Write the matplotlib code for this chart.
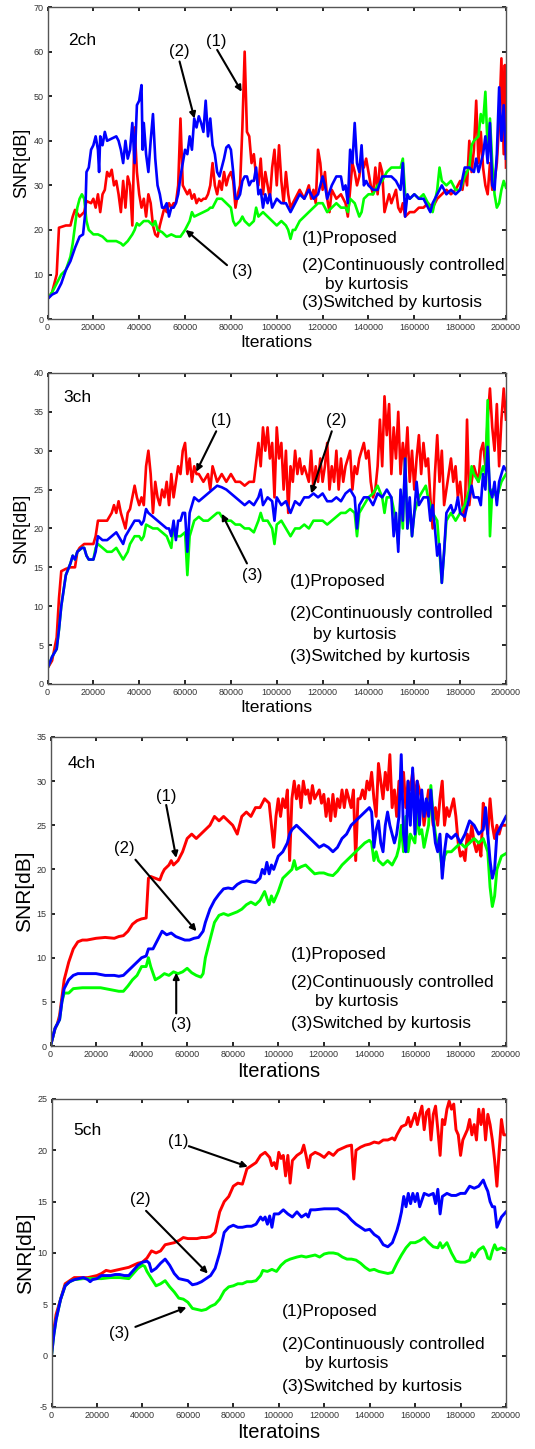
import numpy as np
import matplotlib
matplotlib.use("Agg")
import matplotlib.pyplot as plt

plt.rcParams['font.family'] = ['Liberation Sans', 'DejaVu Sans']
plt.rcParams['axes.unicode_minus'] = False

# ---- SNR curves: (iterations in thousands, SNR in dB) ----
ch2_proposed = [(0,4.5),(2,6),(4,10),(5,20.5),(8,21),(10,21),(11,23),(12,24.5),(14,23),(16,24),(17,26.5),(19,26),(20,27),(21,25),(22,28),(23,24),(24,28),(25,29),(26,33),(27,32),(28,33.5),(29,30),(30,31),(31,28),(32,24),(33,31),(34,25),(35,32),(36,30),(37,21),(38,43),(39,33),(40,28),(41,25),(42,27),(43,23),(44,28),(45,26),(46,21),(47,19),(48,18.5),(49,21),(50,23),(51,25),(52,24),(53,26),(54,25),(55,26),(56,26),(57,30),(58,45),(59,30),(60,29),(61,28),(62,29),(63,27),(64,28),(65,26),(66,27),(67,26.5),(68,27),(69,27),(70,28),(71,30),(72,35),(73,30),(74,28),(75,31),(76,29),(77,33),(78,30),(79,32),(80,33),(81,31),(82,25),(83,28),(84,30),(85,43),(86,60),(87,42),(88,41),(89,35),(90,37),(91,32),(92,30),(93,36),(94,28),(95,33),(96,30),(97,27),(98,34),(99,38),(100,30),(101,39),(102,31),(103,26),(104,33),(105,28),(106,25),(107,26),(108,27),(110,29),(112,27),(114,30),(115,27),(116,29),(117,26),(118,38),(119,35),(120,29),(121,33),(122,27),(123,24),(124,29),(126,27),(128,28),(130,26),(131,23),(133,35),(134,33),(135,30),(136,32),(137,36),(138,34),(139,36),(140,33),(141,30),(142,28),(143,34),(144,28),(145,35),(146,33),(147,24),(148,26),(149,28),(150,26),(152,29),(153,25),(154,24),(155,26),(156,23),(158,24),(160,24),(162,25),(164,25),(166,26),(168,25),(170,27),(172,28),(174,29),(176,28),(178,29),(180,31),(181,29),(182,33),(183,30),(184,40),(185,33),(186,38),(187,49),(188,35),(189,42),(190,34),(191,30),(192,28),(193,35),(194,29),(195,31),(196,35),(197,44),(198,58.5),(199,37),(199.5,57),(200,34)]
ch2_continuous = [(0,4.5),(2,5.5),(4,6),(6,8),(8,11),(10,13),(12,16),(14,18.5),(15.5,19),(16.5,24),(17,33),(18,34),(19,38),(20,39),(21,41),(22,38),(22.5,33),(23,41),(24,39),(25,42),(26,40),(28,40.5),(30,41),(31,40),(32,38),(33,35),(34,40),(35,36),(36,38),(37,44),(38,35),(39,48),(40,49),(41,52.5),(41.5,38),(42,44),(43,37),(44,33),(45,40),(46,46),(47,36),(48,30),(49,28),(50,25),(51,25),(52,26),(53,23),(54,25),(55,25),(56,26),(57,28),(58,32),(59,35),(60,38),(61,37),(62,41),(63,38),(64,45),(65,43),(66,45.5),(67,44),(68,42),(69,49),(70,41),(71,45),(72,39),(73,37),(74,33),(75,32),(76,34),(77,36),(78,38.5),(79,39),(80,38),(81,33),(82,27),(83,27),(84,28),(85,31),(86,32),(87,32),(88,30),(89,31),(90,31),(91,34),(92,28),(93,29),(94,25),(95,28),(96,26),(97,28),(98,25),(100,27),(102,26),(104,26),(106,24),(108,26),(110,28),(112,27),(114,29),(116,27),(118,28),(120,32),(121,30),(122,27),(124,30),(126,32),(128,32),(129,29),(130,30),(131,26),(132,38),(133,35),(134,44),(135,35),(136,33),(137,39),(138,30),(139,31),(140,30),(142,29),(144,29),(146,32),(148,32),(150,32),(152,31),(154,29),(155,35),(156,23),(157,28),(158,27),(160,28),(162,27),(164,27),(166,25),(167,24),(168,26),(170,28),(172,30),(174,28),(176,29),(178,28),(180,29),(182,34),(184,34),(186,33),(187,36),(188,33),(190,37),(191,41),(192,35),(193,44),(194,30),(195,29),(196,37),(197,52),(198,40),(199,48),(200,36)]
ch2_switched = [(0,4.5),(2,6),(4,8),(6,10),(8,11),(10,14),(11,17),(12,21),(13,25),(14,27),(15,28),(16,27),(17,22),(18,20),(20,19),(22,19),(24,18.5),(26,17.5),(28,17.5),(30,17.5),(32,17),(33,16.5),(35,17.5),(37,19),(38,20),(39,21.5),(40,21),(42,22),(44,22),(46,21),(47,22),(48,20),(50,19.5),(52,18.5),(54,19),(56,18.5),(58,18.5),(60,20),(61,21),(62,22),(63,24),(64,23),(66,23.5),(68,24),(70,24.5),(71,25),(72,25),(73,26),(74,27),(76,27),(78,26),(80,25),(81,22),(82,21),(84,22),(85,23),(86,22),(88,21),(90,22),(91,25),(92,23),(94,24),(96,23),(98,22),(100,21),(102,22),(104,21),(105,20),(106,18),(107,20),(108,20),(110,22),(112,23),(114,24),(116,25),(118,26),(120,26),(122,24),(124,25),(126,26),(128,25),(130,25),(131,24),(132,27),(134,26),(136,23),(137,24),(138,27),(140,28),(142,28),(144,30),(146,31),(148,33),(150,34),(152,34),(154,34),(155,36),(156,28),(158,27),(160,28),(162,27),(164,28),(166,26),(168,24),(170,29),(171,34),(172,31),(174,30),(176,31),(178,29),(180,29),(182,32),(184,34),(185,39),(186,40),(188,41),(189,46),(190,44),(191,51),(192,38),(193,45),(194,35),(195,28),(196,25),(197,26),(198,29),(199,31),(200,29.5)]

ch3_proposed = [(0,2),(2,3),(4,6),(5,11),(6,14.5),(8,14.8),(10,15),(12,15),(13,17),(14,17.5),(16,18),(18,18),(20,18),(21,19),(22,21),(24,21),(26,21),(28,22),(29,23),(30,22),(31,23.5),(32,22),(33,21),(34,20),(35,22),(36,22.5),(37,24),(38,25.5),(39,24),(40,23),(41,24),(42,23),(43,28),(44,30),(45,27),(46,22),(47,26),(48,24),(49,23),(50,25),(51,24),(52,26),(53,23),(54,27),(55,24),(56,26),(57,28),(58,27),(59,30),(60,31),(61,27),(62,29),(63,26),(64,28),(65,27),(66,27),(68,26),(70,27),(71,25),(72,28),(74,26),(76,27),(78,26),(80,27),(82,26),(84,26),(86,25.5),(88,26),(90,26),(92,31),(93,28),(94,33),(95,30),(96,33),(97,29),(98,31),(99,24),(100,33),(101,29),(102,31),(103,25),(104,30),(105,22),(106,28),(107,26),(108,30),(109,27),(110,29),(111,27),(112,28),(114,26),(115,30),(116,25),(117,28),(118,26),(119,29),(120,26),(121,28),(122,31),(123,25),(124,28),(125,26),(126,30),(127,25),(128,29),(129,26),(130,28),(131,29),(132,30),(133,25),(134,28),(135,27),(136,29),(137,30),(138,31),(139,29),(140,30),(141,26),(142,24),(143,25),(144,28),(145,34),(146,28),(147,37),(148,32),(149,36),(150,27),(151,33),(152,29),(153,35),(154,27),(155,31),(156,28),(157,33),(158,26),(159,30),(160,25),(161,29),(162,32),(163,27),(164,31),(165,28),(166,29),(167,24),(168,20),(169,27),(170,32),(171,26),(172,30),(173,23),(174,25),(175,27),(176,29),(177,26),(178,28),(179,24),(180,26),(181,23),(182,21),(183,34),(184,23),(185,26),(186,28),(187,27),(188,26),(189,30),(190,31),(191,28),(192,34),(193,38),(194,33),(195,30),(196,36),(197,28),(198,34),(199,38),(200,34)]
ch3_continuous = [(0,2),(2,3.5),(4,4.5),(5,7),(6,10),(8,14),(10,15.5),(11,16.5),(12,16),(13,17),(15,17.5),(16,17.5),(17,16.5),(18,16),(20,16),(21,17),(22,19),(24,18.5),(26,18.5),(28,19),(30,19.5),(32,18.5),(33,18),(34,19),(36,20),(38,21),(40,21),(41,20.5),(42,21),(43,22.5),(44,22),(46,21.5),(48,21),(50,20.5),(52,20),(53,20),(54,19),(55,21),(56,18.5),(57,21),(58,21),(59,22),(60,22),(61,17),(62,22),(63,23),(64,24),(66,23.5),(68,24),(70,24.5),(72,25),(74,25.5),(76,25.3),(78,25),(80,24.5),(82,24),(84,23.5),(86,23),(88,23.5),(90,23),(92,24),(93,25),(94,23),(96,24),(98,23.5),(99,21),(100,24),(102,23),(104,23.5),(106,22),(108,23.5),(110,23),(112,24),(114,24),(116,24.5),(118,24),(120,24.5),(122,23.5),(124,23.5),(126,24),(128,23.5),(130,24.5),(132,25),(134,24),(135,20),(136,23),(138,24),(140,24),(142,23),(144,24.5),(146,24),(148,25),(150,24),(151,19),(152,22),(153,17),(154,25),(155,21),(156,29),(157,20),(158,24),(159,19),(160,22),(161,26),(162,23),(164,24),(166,24),(167,21),(168,23),(169,20),(170,16.5),(171,18),(172,13),(173,17),(174,22),(176,23),(177,22),(178,22.5),(179,24),(180,22),(182,21.5),(184,24),(185,25.5),(186,24),(188,24),(189,23),(190,27),(191,25),(192,30.5),(193,25),(194,24),(195,26),(196,23),(197,26),(198,27),(199,28),(200,27.5)]
ch3_switched = [(0,2),(2,3.5),(4,4.5),(5,7),(6,10),(8,14),(10,15.5),(11,16.5),(12,16),(13,17),(15,17.5),(16,17.5),(17,16.5),(18,16),(20,16),(21,17.5),(22,18),(24,17.5),(26,17),(28,17),(30,17.5),(32,16.5),(33,16),(35,17),(36,18),(38,19),(40,19),(41,18.5),(42,19),(43,20.5),(46,20),(48,20),(50,19.5),(52,19),(54,17.5),(55,20.5),(56,19),(58,19),(60,19.5),(61,14),(62,19),(64,21),(66,21.5),(68,21),(70,21),(72,21.5),(74,22),(75,22),(76,21.5),(78,21),(80,21),(82,20.5),(84,20.5),(86,20),(88,20),(90,19.5),(92,21),(93,22),(94,21),(96,21),(98,20),(99,18),(100,20.5),(102,21),(104,20),(106,19),(108,20),(110,20),(112,20.5),(114,20),(116,21),(118,21),(120,21),(122,20.5),(124,21),(126,21.5),(128,22),(130,22),(132,22.5),(134,22),(135,19),(136,22),(138,23),(140,24),(142,24.5),(144,25.5),(146,24),(147,22),(148,24),(150,24),(152,21),(153,18),(154,24),(155,20),(156,29),(157,20),(158,23),(159,19),(160,22),(162,24),(164,25),(165,25.5),(166,24),(168,22),(170,21),(172,13),(173,17),(174,21),(176,22),(178,21),(180,22),(182,23),(184,25),(185,28),(186,27),(188,26),(190,28),(191,27),(192,36.5),(193,19),(194,25),(196,24),(198,26),(200,27)]

ch4_proposed = [(0,0),(1,1),(2,2),(3,2.5),(4,3.5),(5,5.5),(6,7.5),(8,9.5),(10,11),(12,11.8),(14,12),(16,12),(20,12.2),(24,12.3),(28,12.2),(30,12.4),(32,12.5),(34,13),(36,13.8),(38,14.2),(40,14.4),(42,14.5),(43,19),(44,19.2),(46,19),(48,18.8),(49,19.5),(50,20),(52,20.5),(53,21),(54,20.5),(56,21),(58,22),(60,23.5),(62,24),(64,23.5),(66,24),(68,24.5),(70,25),(72,26),(74,25.5),(76,26),(78,25.5),(80,25),(82,24),(84,26),(86,26.5),(88,26),(90,27),(92,27),(94,28),(96,27.5),(97,25),(98,22.5),(99,26),(100,28),(101,26),(102,28),(103,27),(104,29),(105,21),(106,28),(107,30),(108,28),(109,29.5),(110,27),(111,30),(112,28.5),(113,29),(114,27.5),(115,29.5),(116,28),(118,29),(119,27.5),(120,28.5),(121,26),(122,28),(123,25.5),(124,28.5),(125,26),(126,28),(127,27),(128,29),(129,27),(130,29),(131,28),(132,27),(133,29),(134,21),(135,28),(136,28),(137,29),(138,28),(139,30),(140,29),(141,31),(142,28),(143,26),(144,32),(145,30),(146,28),(147,31),(148,29),(149,33),(150,27),(151,29),(152,26),(153,30),(154,28),(155,31),(156,27),(157,30),(158,29),(159,31),(160,28),(161,30),(162,29),(163,28),(164,25),(165,27),(166,29),(167,28),(168,25),(169,27),(170,25),(171,28),(172,30),(173,25),(174,27),(175,26),(176,27),(177,28),(178,26),(179,23),(180,21.5),(181,22),(182,21),(183,24),(184,23),(185,25),(186,23),(187,22),(188,23),(189,21.5),(190,27.5),(191,26),(192,24),(193,28),(194,25),(195,23.5),(196,25),(197,24),(198,25),(200,25)]
ch4_continuous = [(0,0),(2,2),(4,3),(5,5),(6,6.5),(8,7.5),(10,8),(12,8.2),(16,8.2),(20,8.2),(24,8),(28,8),(30,7.9),(32,8),(34,8.5),(36,9),(38,9.5),(40,10),(42,10.2),(43,11),(45,11),(47,12),(49,13),(51,12.6),(53,12.8),(55,12.4),(57,12.2),(59,12),(61,12),(63,12.2),(65,12.3),(67,13),(68,14),(70,15.5),(72,16.5),(74,17.2),(76,17.8),(78,17.9),(80,17.8),(82,18.3),(84,18.6),(86,18.7),(88,18.6),(90,18.5),(92,19),(93,20),(94,19.5),(95,20.8),(96,19.5),(97,20.5),(98,20),(100,21.5),(102,22),(103,22.5),(104,23),(105,24),(106,24.5),(108,25),(110,24.5),(112,24),(114,23.5),(116,23),(118,22.5),(120,22.8),(122,22.5),(124,22),(126,22.5),(128,23.5),(130,24),(132,25),(134,25.5),(136,26),(138,26.5),(140,27),(141,26.5),(142,22.5),(143,24.5),(144,25.5),(145,23),(146,22),(147,25),(148,26.5),(149,25),(150,24),(151,23),(152,24),(153,26),(154,33),(155,24),(156,22),(157,30),(158,25),(159,31.5),(160,24),(161,30),(162,25),(163,29),(164,26),(165,28),(166,26),(167,29),(168,25.5),(169,23),(170,22),(171,24),(172,19),(173,22),(174,24),(176,23.5),(178,24),(180,23),(182,24),(184,25.5),(186,25),(188,24),(190,24.5),(191,27),(192,24),(193,21),(194,19),(195,20),(196,24),(198,25),(200,26)]
ch4_switched = [(0,0),(2,2),(4,3),(5,5),(6,6),(8,6),(10,6.5),(14,6.6),(18,6.6),(22,6.6),(26,6.4),(30,6.2),(32,6.2),(34,6.8),(36,7.5),(38,8),(40,9),(42,9),(43,10),(44,9),(46,7.5),(48,7.8),(50,8.2),(52,8),(54,8.4),(56,8.2),(58,8.4),(60,8.8),(62,8.3),(64,8),(66,7.8),(67,8.2),(68,10),(70,12),(72,14),(74,14.8),(76,15),(78,14.8),(80,15),(82,15.2),(84,15.5),(86,16),(88,16.3),(90,16),(92,16.5),(94,17.5),(96,16),(97,17),(98,16.3),(100,17.5),(102,19),(104,19.5),(106,20),(107,21),(108,20),(110,20.3),(112,20.5),(114,20),(116,19.5),(118,19.6),(120,19.6),(122,19.4),(124,19.3),(126,19.8),(128,20.5),(130,21),(132,21.5),(134,22),(136,22.5),(138,23),(140,23.3),(141,23),(142,21),(143,22),(144,21),(146,20.5),(148,21),(150,20.5),(152,21.5),(153,22.5),(154,25),(155,22),(156,26),(157,22),(158,24),(160,23),(161,26.5),(162,24),(163,24.5),(164,22.5),(166,25),(167,29.5),(168,26),(169,24),(170,22.5),(171,22),(172,20),(173,21.5),(174,22),(176,22),(178,22.5),(180,23),(182,22.5),(184,23),(186,23.5),(188,23),(190,23.5),(192,22),(193,18),(194,15.8),(195,17),(196,20),(198,21.5),(200,21.8)]

ch5_proposed = [(0,0.5),(1,2.5),(2,4),(4,5.5),(6,7),(8,7.3),(10,7.6),(12,7.6),(14,7.6),(16,7.6),(18,7.7),(20,7.8),(22,8),(24,8.3),(26,8.2),(28,8.3),(30,8.4),(32,8.5),(34,8.6),(36,8.8),(38,9),(40,9.1),(42,9.5),(44,10.2),(46,10),(48,10.2),(50,10.8),(52,10.9),(54,11),(56,11.2),(58,11.5),(60,11.4),(62,11.4),(64,11.4),(66,11.5),(68,11.5),(70,11.6),(72,12),(74,14),(76,15),(78,15.5),(80,16.5),(82,16.8),(84,16.7),(86,18.2),(88,18.5),(90,18.8),(92,19.5),(94,19.8),(96,19.3),(97,18.5),(98,18.8),(99,18.2),(100,19.8),(101,19.2),(102,19.5),(103,17.5),(104,19.5),(105,16.8),(106,19),(108,19.5),(110,19.8),(111,20.5),(112,19.5),(113,18.3),(114,19.5),(116,19.8),(118,19.6),(120,19.3),(122,19.8),(124,19.5),(126,20),(128,20.2),(130,20.4),(132,20.5),(133,17.2),(134,20),(136,20.3),(138,20.5),(140,20.6),(142,20.8),(144,20.7),(146,21),(148,21),(150,21.2),(151,21),(152,21.5),(154,22.3),(156,22.5),(157,23.2),(158,22.3),(160,23.6),(161,22.5),(162,23.5),(163,24.3),(164,22),(165,23.7),(166,24),(167,21),(168,23.5),(169,24.3),(170,22),(171,19.5),(172,23),(173,22.5),(174,24),(175,24.8),(176,24),(177,24.5),(178,22),(179,21.5),(180,19.5),(181,21),(182,21.5),(183,22),(184,23),(185,21.5),(186,22.5),(187,21),(188,24),(189,22.5),(190,24),(191,21),(192,23.5),(193,22.5),(194,21),(195,19),(196,16.5),(197,20),(198,23),(199,21.5),(200,21.5)]
ch5_continuous = [(0,0),(1,2),(2,3.5),(4,5.5),(6,6.8),(8,7.2),(10,7.4),(12,7.5),(14,7.6),(16,7.4),(17,7.2),(18,7.4),(20,7.5),(22,7.8),(24,7.8),(26,7.8),(28,7.9),(30,7.9),(32,7.8),(34,7.8),(36,8.3),(38,8.8),(40,9.1),(42,9.2),(43,9),(44,8.2),(46,8.5),(48,9),(50,9.4),(52,8.8),(54,8),(56,7.5),(58,7.4),(60,7.3),(62,6.9),(64,7),(66,7.2),(68,7.5),(70,7.8),(72,8.5),(74,10),(76,12),(78,12.5),(80,12.7),(82,12.5),(84,12.5),(86,12.6),(88,12.6),(90,12.8),(92,13.5),(93,13.2),(94,13.5),(95,12.8),(96,13.6),(97,12.5),(98,13.8),(100,13.8),(102,14.2),(104,13.8),(106,13.5),(108,14),(110,13.5),(112,13.8),(113,13.5),(114,14.2),(116,14.2),(120,14.3),(122,14.3),(124,14.3),(126,14.3),(128,14),(130,13.7),(132,13.2),(134,12.8),(136,12.5),(138,12.2),(140,12.3),(142,11.8),(144,11.5),(146,10.8),(148,10.6),(150,11),(152,12.2),(153,13),(154,14),(155,15.5),(156,14.5),(157,15.8),(158,14.8),(159,15.8),(160,15),(161,15.8),(162,14.5),(164,15.8),(166,15.6),(168,15.8),(169,14.8),(170,16.2),(171,13.8),(172,15.5),(174,15.8),(176,15.6),(178,15.6),(180,15.8),(182,15.8),(184,16.5),(186,16.3),(188,16.5),(190,17.1),(191,16.5),(192,16),(193,15),(194,14.5),(195,14.5),(196,12.5),(197,13),(198,13.5),(200,14)]
ch5_switched = [(0,0),(1,2),(2,3.5),(4,5.5),(6,6.8),(8,7.2),(10,7.4),(14,7.5),(18,7.5),(22,7.5),(26,7.6),(30,7.6),(34,7.5),(36,8),(38,8.5),(40,8.8),(41,8.7),(42,8.2),(44,7.5),(46,6.8),(48,7),(50,7.3),(52,6.7),(54,6.2),(56,5.6),(58,5.5),(60,5.2),(62,4.6),(64,4.5),(66,4.4),(68,4.5),(70,4.8),(72,5),(74,5.5),(76,6.3),(78,6.7),(80,6.8),(82,7),(84,7),(86,7.2),(88,7.2),(90,7.3),(92,7.8),(93,8.3),(95,8.2),(97,8.4),(99,8.2),(101,8.8),(103,9.2),(105,9.4),(108,9.6),(110,9.7),(112,9.6),(114,9.7),(116,9.8),(118,9.6),(120,9.9),(122,10),(124,10),(126,9.9),(128,9.6),(130,9.4),(132,9.4),(134,9.3),(136,9),(138,8.6),(140,8.3),(142,8.4),(144,8.2),(146,8.1),(148,8),(150,8.1),(152,9),(154,9.8),(156,10.5),(158,11),(160,11),(162,11.2),(164,11.5),(166,11),(168,10.6),(170,10.5),(171,11),(172,10.5),(174,11),(176,10),(178,9.2),(180,9.1),(182,9.1),(184,9.3),(185,10),(186,9.6),(188,10.3),(190,10.6),(191,10.2),(192,9.5),(193,9.4),(194,10.2),(195,10.8),(196,10.3),(198,10.5),(200,10.3)]

# ---- labels ----
channel_labels = ["2ch", "3ch", "4ch", "5ch"]
xlabels = ["Iterations", "Iterations", "Iterations", "Iteratoins"]
ylims = [(0, 70), (0, 40), (0, 35), (-5, 25)]
ysteps = [10, 5, 5, 5]
method_labels = ["(1)Proposed", "(2)Continuously controlled", "by kurtosis", "(3)Switched by kurtosis"]
series = [
    (ch2_proposed, ch2_switched, ch2_continuous),
    (ch3_proposed, ch3_switched, ch3_continuous),
    (ch4_proposed, ch4_switched, ch4_continuous),
    (ch5_proposed, ch5_switched, ch5_continuous),
]
colors = ["#ff0000", "#00ff00", "#0000ff"]

# axes rectangles in figure fractions
rects = [
    (0.0888, 0.7798, 0.8570, 0.2153),
    (0.0888, 0.5280, 0.8570, 0.2146),
    (0.0944, 0.2781, 0.8514, 0.2133),
    (0.0963, 0.0290, 0.8495, 0.2126),
]
label_sizes = [(12.6, 13), (12.6, 13), (14.5, 15), (14.5, 15)]
line_widths = [1.9, 1.9, 2.1, 2.1]

# annotation layout per panel: ch label pos, arrow (text, text_xy, tail, head), legend rows
ch_pos = [(9.2, 62.6), (7, 36.8), (7.3, 32), (9.5, 21.9)]
arrows = [
    [("(1)", (73.5, 62.3), (74, 60.4), (84.7, 51)),
     ("(2)", (57.6, 60), (57.6, 57.8), (64.1, 45)),
     ("(3)", (85, 10.6), (78.3, 12.1), (60.2, 20))],
    [("(1)", (75.8, 33.9), (73.6, 32.5), (64.9, 27.3)),
     ("(2)", (126, 33.9), (124, 32.5), (115, 24.5)),
     ("(3)", (89.5, 13.9), (87, 15.5), (76, 21.9))],
    [("(1)", (50.8, 28.3), (50.8, 27.3), (55.2, 21.3)),
     ("(2)", (32.2, 22.4), (37.3, 21.1), (64.1, 13)),
     ("(3)", (57.5, 2.4), (55.2, 3.7), (55.2, 8.3))],
    [("(1)", (55.6, 20.9), (60.4, 20.4), (86.4, 18.4)),
     ("(2)", (39.1, 15.2), (41.6, 14.1), (68.8, 8.0)),
     ("(3)", (30, 2.2), (36.9, 2.8), (59.4, 4.7))],
]
legend_rows = [
    [(111, 18.1), (111, 12.0), (121, 7.8), (111, 3.7)],
    [(105.6, 13.2), (105.6, 9.1), (116, 6.4), (105.6, 3.5)],
    [(105.6, 10.4), (105.6, 7.2), (116.3, 5.0), (105.6, 2.5)],
    [(101.5, 4.3), (101.5, 1.1), (111.7, -0.8), (101.5, -3.0)],
]

fig = plt.figure(figsize=(5.35, 14.49), dpi=100)

for i in range(4):
    ax = fig.add_axes(rects[i])
    for data, c in zip(series[i], colors):
        arr = np.array(data, dtype=float)
        ax.plot(arr[:, 0] * 1000, arr[:, 1], color=c, lw=line_widths[i],
                solid_joinstyle='round')
    ax.set_xlim(0, 200000)
    ax.set_ylim(*ylims[i])
    ax.set_xticks(np.arange(0, 200001, 20000))
    ax.set_xticklabels([str(v) for v in range(0, 200001, 20000)])
    yt = np.arange(ylims[i][0], ylims[i][1] + 0.1, ysteps[i])
    ax.set_yticks(yt)
    ax.set_yticklabels([str(int(v)) for v in yt])
    ax.tick_params(direction='in', length=3, width=1.2, top=True, right=True,
                   labelsize=6.5, labelcolor='#333333', pad=3)
    for s in ax.spines.values():
        s.set_color('#555555')
        s.set_linewidth(1.0)
    ax.set_xlabel(xlabels[i], fontsize=label_sizes[i][0], labelpad=2)
    ax.set_ylabel("SNR[dB]", fontsize=label_sizes[i][1], labelpad=2)

    ax.text(ch_pos[i][0] * 1000, ch_pos[i][1], channel_labels[i],
            fontsize=12.5, ha='left', va='center')
    for txt, txy, tail, head in arrows[i]:
        ax.annotate('', xy=(head[0] * 1000, head[1]), xytext=(tail[0] * 1000, tail[1]),
                    arrowprops=dict(arrowstyle='-|>', color='black', lw=1.5,
                                    mutation_scale=9, shrinkA=0, shrinkB=0))
        ax.text(txy[0] * 1000, txy[1], txt, fontsize=12, ha='center', va='center')
    for lab, (lx, ly) in zip(method_labels, legend_rows[i]):
        ax.text(lx * 1000, ly, lab, fontsize=12.5, ha='left', va='center')

fig.savefig("out.png", dpi=100)
